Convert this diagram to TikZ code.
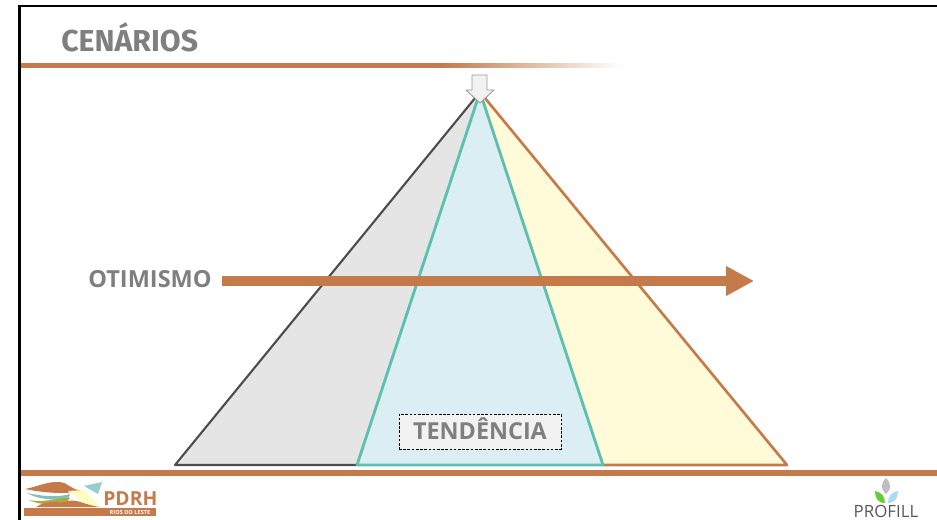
\documentclass[tikz,border=0pt]{standalone}
\usepackage{fontspec}
\setmainfont{Open Sans}
\newfontfamily\titlefont{Fira Sans}
\usepackage{tikz}
\usetikzlibrary{arrows.meta, positioning, calc}

\definecolor{brownline}{HTML}{C47A4A}
\definecolor{tealline}{HTML}{5DBFAE}
\definecolor{tealfill}{HTML}{DAEEF3}
\definecolor{yellowfill}{HTML}{FFFBD9}
\definecolor{titlegray}{HTML}{7F7F7F}
\pgfdeclarehorizontalshading{rulefade}{100bp}{color(0bp)=(brownline); color(60bp)=(brownline); color(75bp)=(white); color(100bp)=(white)}

\begin{document}
\begin{tikzpicture}[
        x=0.02cm, y=-0.02cm,
        title/.style={text=titlegray, font=\bfseries\fontsize{13.4}{13.4}\selectfont, inner sep=0pt},
        tagbox/.style={rectangle, draw=black, dash pattern=on 1.5pt off 0.9pt, fill=gray!10, line width=0.5pt, minimum width=3.24cm, minimum height=0.7cm, text height=9.6pt, text depth=0pt, text=titlegray, font=\bfseries\fontsize{13.3}{13.3}\selectfont},
        arrow/.style={-{Triangle[length=0.56cm, width=0.56cm]}, draw=brownline, line width=0.2cm},
        logotext/.style={inner sep=0pt, font=\bfseries}
    ]
    \useasboundingbox (0,0) rectangle (937,520);

    % corners of the triangles
    \coordinate (apex) at (480,92);
    \coordinate (grayleft) at (175,465);
    \coordinate (tealleft) at (357,465);
    \coordinate (tealright) at (603,465);
    \coordinate (yellowright) at (787,465);

    % frame and rules
    \draw [black, line width=1.3pt] (937,6) -- (19.5,6) -- (19.5,520);
    \shade [shading=rulefade] (21,63.5) rectangle (622,67.5);
    \fill [brownline] (21,470) rectangle (937,476);

    \node (cenarios) [title, anchor=west, font=\titlefont\bfseries\fontsize{17.2}{17.2}\selectfont] at (61,37.5) {CENÁRIOS};

    % triangles
    \fill [gray!20] (apex) -- (grayleft) -- (tealleft) -- cycle;
    \fill [yellowfill] (apex) -- (yellowright) -- (tealright) -- cycle;
    \draw [black!70, line width=1.2pt, line join=round] (tealleft) -- (grayleft) -- (apex);
    \draw [brownline, line width=1.5pt, line join=round] (apex) -- (yellowright) -- (tealright);
    \draw [tealline, fill=tealfill, line width=1.6pt, line join=round] (apex) -- (tealleft) -- (tealright) -- cycle;

    % arrow on top
    \draw [draw=gray!80, fill=gray!10, line width=0.5pt, line join=round]
        (472,75) -- (487,75) -- (487,90) -- (494,90) -- (480,103) -- (466,90) -- (472,90) -- cycle;

    \node (otimismo) [title, anchor=east] at (212,279.5) {OTIMISMO};
    \coordinate (arrowstart) at (222,281);
    \coordinate (arrowend) at (754,281);
    \draw [arrow] (arrowstart) -- (arrowend);

    \node (tendencia) [tagbox] at (480,431.5) {TENDÊNCIA};

    % logo left
    \fill [brownline] (24,508) rectangle (156,516);
    \fill [brownline] (25,489) .. controls (40,486) and (45,482) .. (58,482) .. controls (70,482) and (68,490) .. (85,491) .. controls (60,495) and (40,492) .. (25,489) -- cycle;
    \fill [teal!50] (27,493) .. controls (45,497) and (60,497) .. (70,494) -- (68,499) .. controls (50,501) and (35,498) .. (27,493) -- cycle;
    \fill [olive!70] (29,500) .. controls (45,503) and (55,498) .. (70,498) -- (66,503) .. controls (50,505) and (40,505) .. (29,500) -- cycle;
    \fill [brownline] (36,507) .. controls (50,498) and (60,505) .. (68,501) .. controls (78,499) and (85,505) .. (100,507) -- cycle;
    \fill [yellow!25] (68,491) -- (84,490) -- (101,507) -- (84,503) -- cycle;
    \fill [teal!40] (84,486) -- (102,482) -- (98,494) -- cycle;
    \node (pdrh) [logotext, anchor=west, text=brownline, font=\bfseries\fontsize{11}{11}\selectfont] at (103,498.5) {PDRH};
    \node (rios) [logotext, text=white, font=\bfseries\fontsize{3.2}{3.2}\selectfont] at (130,512) {RIOS DO LESTE};

    % logo right
    \fill [gray!50] (886,478) .. controls (880,484) and (881,490) .. (886,494) .. controls (891,490) and (892,484) .. (886,478) -- cycle;
    \fill [green!50!olive!80] (875,491) .. controls (875,498) and (878,503) .. (885,503) .. controls (885,496) and (881,492) .. (875,491) -- cycle;
    \fill [blue!40!cyan!35] (898,491) .. controls (898,498) and (895,503) .. (888,503) .. controls (888,496) and (892,492) .. (898,491) -- cycle;
    \node (profill) [logotext, text=black!65, font=\fontsize{9.6}{9.6}\selectfont] at (886,511) {PROFILL};

\end{tikzpicture}
\end{document}
